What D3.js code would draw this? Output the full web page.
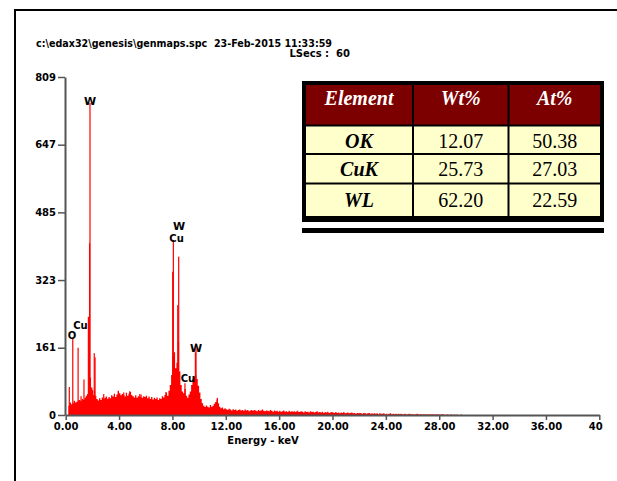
<!DOCTYPE html>
<html>
<head>
<meta charset="utf-8">
<script src="https://cdn.jsdelivr.net/npm/d3@7"></script>
<style>
  html, body { margin: 0; padding: 0; background: #fff; overflow: hidden; }
  svg { display: block; }
</style>
</head>
<body>
<svg id="chart" width="617" height="481"></svg>
<script>
// EDS spectrum, counts per 0.1 keV channel, first channel at 0.2 keV
const channelStartKeV = 0.2;
const channelWidthKeV = 0.1;
const channelCounts = [
  22, 30, 26, 28, 34, 30, 32, 35,                 // 0.2 - 0.9
  36, 33, 38, 36, 41, 46, 50, 62, 90, 66,         // 1.0 - 1.9
  48, 58, 46, 38, 35, 40, 36, 42, 38, 41,         // 2.0
  44, 39, 43, 40, 47, 44, 51, 43, 49, 56,         // 3.0
  52, 47, 50, 48, 44, 53, 46, 51, 55, 48,         // 4.0
  45, 42, 47, 41, 45, 43, 49, 41, 45, 43,         // 5.0
  46, 40, 44, 38, 43, 37, 41, 38, 42, 36,         // 6.0
  40, 38, 45, 42, 48, 53, 46, 58, 72, 96,         // 7.0
  140, 150, 112, 125, 175, 104, 72, 56, 52, 62,   // 8.0
  46, 41, 49, 56, 72, 86, 92, 96, 86, 70,         // 9.0
  54, 38, 28, 22, 19, 23, 20, 18, 24, 20,         // 10.0
  22, 27, 31, 37, 28, 20, 16, 18, 14, 16,         // 11.0
  14, 12, 15, 13, 11, 14, 12, 13, 10, 12,         // 12.0
  13, 11, 12, 10, 13, 11, 12, 9, 11, 12,          // 13.0
  10, 12, 11, 9, 12, 10, 11, 13, 10, 9,           // 14.0
  11, 10, 9, 12, 10, 8, 11, 9, 10, 8,             // 15.0
  10, 8, 9, 11, 8, 9, 7, 10, 8, 9,                // 16.0
  8, 9, 7, 10, 8, 7, 9, 8, 6, 9,                  // 17.0
  7, 8, 6, 9, 7, 8, 6, 7, 9, 6,                   // 18.0
  7, 6, 8, 5, 7, 6, 8, 5, 6, 7,                   // 19.0
  6, 5, 7, 5, 6, 4, 6, 5, 7, 4,                   // 20.0
  5, 6, 4, 5, 6, 4, 5, 3, 5, 4,                   // 21.0
  5, 4, 3, 5, 4, 3, 4, 5, 3, 4,                   // 22.0
  3, 4, 3, 4, 2, 4, 3, 3, 4, 2,                   // 23.0
  3, 2, 3, 4, 2, 3, 2, 3, 2, 3,                   // 24.0
  2, 3, 2, 2, 3, 1, 2, 3, 2, 2,                   // 25.0
  2, 1, 2, 3, 1, 2, 2, 1, 2, 1,                   // 26.0
  2, 1, 1, 2, 1, 2, 1, 1, 2, 1,                   // 27.0
  1, 1, 2, 1, 0, 1, 1, 0, 1, 1,                   // 28.0
  0, 1, 0, 1, 0, 0, 1, 0, 0, 0                    // 29.0
];

// Sharp emission lines on top of the continuum
const lineKeV    = [0.27, 0.53, 0.93, 1.15, 1.37, 1.70, 1.79, 1.82, 2.00, 2.14, 2.20,
                    2.85, 3.95, 4.35, 4.80, 5.55, 7.52, 8.02, 8.07, 8.40, 8.47, 8.94,
                    9.72, 9.77, 11.37];
const lineCounts = [67, 185, 161, 45, 85, 235, 411, 747, 60, 148, 138,
                    50, 58, 54, 57, 50, 55, 343, 419, 263, 379, 76,
                    150, 172, 41];

// Element markers
const markerText   = ["O", "Cu", "W", "W", "Cu", "Cu", "W"];
const markerSize   = [10, 10, 11, 11, 10, 10, 11];
const markerKeV    = [0.47, 1.11, 1.82, 8.49, 8.31, 9.17, 9.77];
const markerCounts = [182, 205, 742, 442, 415, 80, 150];

// Axes
const yTickValues = [0, 161, 323, 485, 647, 809];
const xTickValues = [0, 4, 8, 12, 16, 20, 24, 28, 32, 36, 40];
const xTickLabels = ["0.00", "4.00", "8.00", "12.00", "16.00", "20.00", "24.00",
                     "28.00", "32.00", "36.00", "40"];
const xTitle = "Energy - keV";

// Header
const fileLine = "c:\\edax32\\genesis\\genmaps.spc  23-Feb-2015 11:33:59";
const liveLine = "LSecs :  60";

// Quantification table
const tableHeader = ["Element", "Wt%", "At%"];
const elements = ["OK", "CuK", "WL"];
const wtPercent = ["12.07", "25.73", "62.20"];
const atPercent = ["50.38", "27.03", "22.59"];

const svg = d3.select("#chart");
const sansBold = "'DejaVu Sans', sans-serif";

// page frame (top and left rules)
svg.append("rect").attr("x", 14).attr("y", 9).attr("width", 603).attr("height", 2).attr("fill", "#000");
svg.append("rect").attr("x", 14).attr("y", 9).attr("width", 2).attr("height", 472).attr("fill", "#000");

const x = d3.scaleLinear().domain([0, 40]).range([65.7, 599.3]);
const y = d3.scaleLinear().domain([0, 809]).range([415, 77]);

// continuum
const spectrum = channelCounts.map((c, i) => ({ e: channelStartKeV + i * channelWidthKeV, c }));
spectrum.push({ e: channelStartKeV + channelCounts.length * channelWidthKeV, c: 0 });
svg.append("path")
  .datum(spectrum)
  .attr("fill", "#ff0000")
  .attr("d", d3.area()
    .x(d => x(d.e))
    .y0(y(0))
    .y1(d => y(d.c))
    .curve(d3.curveStepAfter));

// emission lines
svg.append("g").selectAll("rect")
  .data(lineKeV.map((e, i) => ({ e, c: lineCounts[i] })))
  .join("rect")
  .attr("x", d => x(d.e) - 0.6)
  .attr("width", 1.2)
  .attr("y", d => y(d.c))
  .attr("height", d => y(0) - y(d.c))
  .attr("fill", "#ff0000");

// y axis
const yAxis = svg.append("g")
  .attr("transform", "translate(65,0)")
  .call(d3.axisLeft(y).tickValues(yTickValues).tickSize(7).tickSizeOuter(0).tickPadding(2));
yAxis.select(".domain").attr("stroke", "#555").attr("stroke-width", 2);
yAxis.selectAll(".tick line").attr("stroke", "#555").attr("stroke-width", 1.5);
yAxis.selectAll(".tick text")
  .attr("font-family", sansBold).attr("font-weight", "bold").attr("font-size", 10)
  .attr("fill", "#000");

// x axis
const xAxis = svg.append("g")
  .attr("transform", "translate(0,415)")
  .call(d3.axisBottom(x).tickValues(xTickValues)
    .tickFormat((d, i) => xTickLabels[i])
    .tickSize(5).tickSizeOuter(0).tickPadding(3));
xAxis.select(".domain").attr("stroke", "#555").attr("stroke-width", 2);
xAxis.selectAll(".tick line").attr("stroke", "#555").attr("stroke-width", 1.5);
xAxis.selectAll(".tick text")
  .attr("font-family", sansBold).attr("font-weight", "bold").attr("font-size", 10)
  .attr("fill", "#000")
  .attr("dx", (d, i) => i === xTickValues.length - 1 ? -4 : 0);

svg.append("text")
  .attr("x", 263).attr("y", 444)
  .attr("text-anchor", "middle")
  .attr("font-family", sansBold).attr("font-weight", "bold").attr("font-size", 10)
  .text(xTitle);

// element markers
svg.append("g").selectAll("text")
  .data(markerText.map((t, i) => ({ t, s: markerSize[i], e: markerKeV[i], c: markerCounts[i] })))
  .join("text")
  .attr("x", d => x(d.e))
  .attr("y", d => y(d.c))
  .attr("text-anchor", "middle")
  .attr("font-family", sansBold)
  .attr("font-weight", "bold")
  .attr("font-size", d => d.s)
  .attr("fill", "#000")
  .text(d => d.t);

// header lines
svg.append("text")
  .attr("x", 36).attr("y", 47)
  .attr("font-family", sansBold).attr("font-weight", "bold").attr("font-size", 10)
  .attr("textLength", 296).attr("lengthAdjust", "spacingAndGlyphs")
  .style("white-space", "pre")
  .text(fileLine);
svg.append("text")
  .attr("x", 350).attr("y", 57)
  .attr("text-anchor", "end")
  .attr("font-family", sansBold).attr("font-weight", "bold").attr("font-size", 10)
  .style("white-space", "pre")
  .text(liveLine);

// quantification table
const tbl = svg.append("g");
tbl.append("rect").attr("x", 302).attr("y", 81).attr("width", 302).attr("height", 141).attr("fill", "#000");
const colEdges = [[306, 412], [414, 507.5], [509.5, 600]];
const rowEdges = [[85, 124.5], [126.5, 153], [155, 182.5], [184.5, 216]];
const rowBaselines = [105, 147.5, 176, 206.5];
const serif = "'Liberation Serif', 'Times New Roman', serif";

const rows = [tableHeader].concat(elements.map((el, i) => [el, wtPercent[i], atPercent[i]]));
rows.forEach((row, r) => {
  row.forEach((txt, c) => {
    const [x0, x1] = colEdges[c];
    const [y0, y1] = rowEdges[r];
    tbl.append("rect")
      .attr("x", x0).attr("y", y0).attr("width", x1 - x0).attr("height", y1 - y0)
      .attr("fill", r === 0 ? "#7d0000" : "#ffffcc");
    const italicBold = r === 0 || c === 0;
    tbl.append("text")
      .attr("x", (x0 + x1) / 2).attr("y", rowBaselines[r])
      .attr("text-anchor", "middle")
      .attr("font-family", serif)
      .attr("font-size", 20)
      .attr("font-weight", italicBold ? "bold" : "normal")
      .attr("font-style", italicBold ? "italic" : "normal")
      .attr("fill", r === 0 ? "#fff" : "#000")
      .text(txt);
  });
});
// rule under the table
tbl.append("rect").attr("x", 302).attr("y", 228).attr("width", 302).attr("height", 5).attr("fill", "#000");
</script>
</body>
</html>
